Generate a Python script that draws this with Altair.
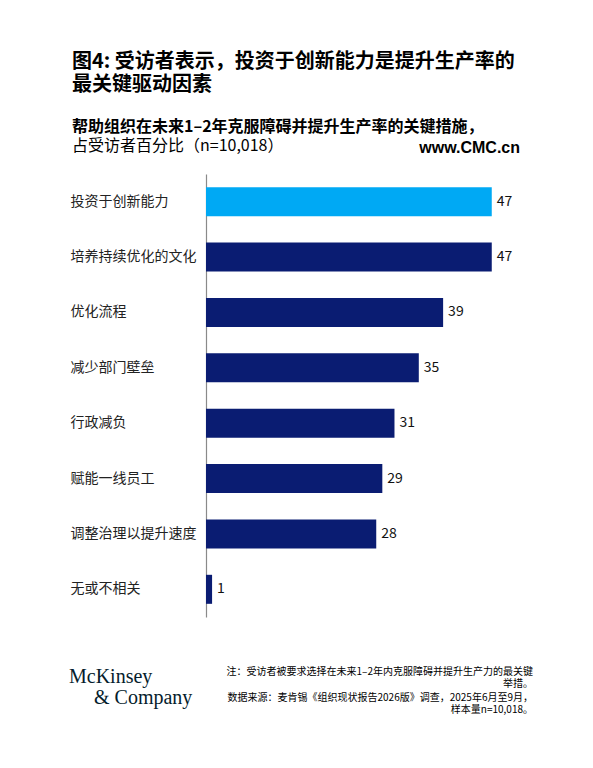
import altair as alt
import pandas as pd

categories = ["投资于创新能力", "培养持续优化的文化", "优化流程", "减少部门壁垒",
              "行政减负", "赋能一线员工", "调整治理以提升速度", "无或不相关"]
values = [47, 47, 39, 35, 31, 29, 28, 1]
highlight = [True, False, False, False, False, False, False, False]

df = pd.DataFrame({"cat": categories, "val": values, "hl": highlight})

CJK = "Noto Sans CJK SC"
NAVY = "#0A1C72"
LIGHT = "#00A9F4"

y_enc = alt.Y("cat:N", sort=categories,
              scale=alt.Scale(paddingInner=0.476, paddingOuter=0.238),
              axis=alt.Axis(title=None, labelAlign="left", labelPadding=136,
                            ticks=False, domain=True, domainColor="#8a8a8a",
                            domainWidth=1.2, labelFont=CJK, labelFontSize=14,
                            labelColor="#222222"))
x_enc = alt.X("val:Q", scale=alt.Scale(domain=[0, 50]), axis=None)

bars = alt.Chart(df).mark_bar().encode(
    x=x_enc, y=y_enc,
    color=alt.Color("hl:N", scale=alt.Scale(domain=[True, False], range=[LIGHT, NAVY]), legend=None),
)
labels = alt.Chart(df).mark_text(align="left", dx=5, font=CJK, fontSize=14, color="#111111").encode(
    x="val:Q", y=alt.Y("cat:N", sort=categories), text="val:Q")

def txt(s, x, y, size, weight="normal", align="left", font=CJK, color="#000000", ls=0):
    return alt.Chart(pd.DataFrame({"t": [s]})).mark_text(
        align=align, baseline="middle", fontSize=size, fontWeight=weight, font=font, color=color
    ).encode(x=alt.value(x), y=alt.value(y), text="t:N")

# page coordinate -> plot coordinate: x - 206, y - 174
def P(x, y):
    return x - 206, y - 174

annots = []
annots.append(txt("图4: 受访者表示，投资于创新能力是提升生产率的", *P(72, 62), 20, "bold"))
annots.append(txt("最关键驱动因素", *P(72, 85), 20, "bold"))
annots.append(txt("帮助组织在未来1–2年克服障碍并提升生产率的关键措施，", *P(72, 127), 16, "bold"))
annots.append(txt("占受访者百分比（n=10,018）", *P(72, 146), 16))
annots.append(txt("www.CMC.cn", *P(520, 148), 16, "bold", align="right", font="Liberation Sans"))
annots.append(txt("McKinsey", *P(69, 677), 20, font="Liberation Serif", color="#051C2C"))
annots.append(txt("& Company", *P(94, 698), 20, font="Liberation Serif", color="#051C2C"))
annots.append(txt("注：受访者被要求选择在未来1–2年内克服障碍并提升生产力的最关键", *P(533, 672), 10, align="right"))
annots.append(txt("举措。", *P(533, 684), 10, align="right"))
annots.append(txt("数据来源：麦肯锡《组织现状报告2026版》调查，2025年6月至9月，", *P(533, 698), 10, align="right"))
annots.append(txt("样本量n=10,018。", *P(533, 710), 10, align="right"))

chart = alt.layer(bars, labels, *annots).properties(
    width=304, height=443,
    padding={"left": 198, "top": 166, "right": 75, "bottom": 143},
    autosize=alt.AutoSizeParams(type="none"),
    background="white",
).configure_view(stroke=None)

chart.save("out.html", embed_options={"renderer": "svg", "actions": False})
